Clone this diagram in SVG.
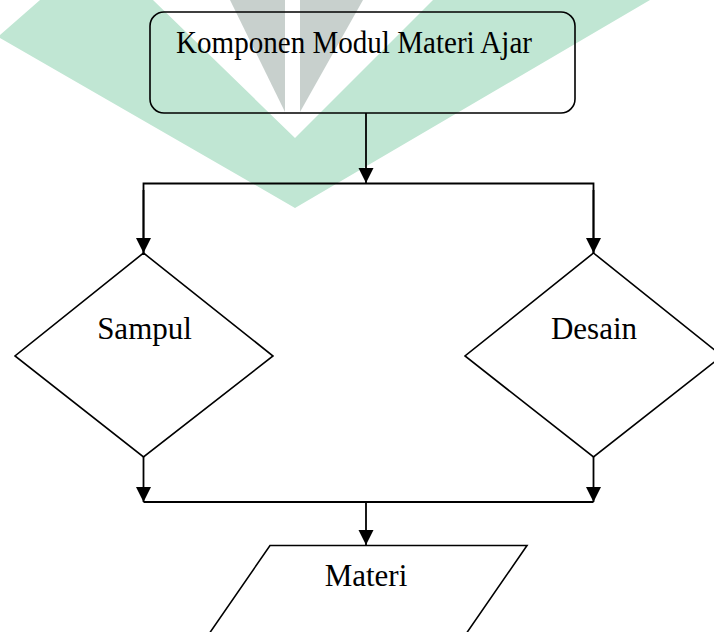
<svg xmlns="http://www.w3.org/2000/svg" width="714" height="632" viewBox="0 0 714 632">
  <style>
    .shape { fill: none; stroke: #000; stroke-width: 1.6; }
    .wire { fill: none; stroke: #000; stroke-width: 1.8; }
    .label { font-family: "Liberation Serif", "Times New Roman", serif; font-size: 31px; fill: #000; }
  </style>
  <defs>
    <marker id="arrow" markerUnits="userSpaceOnUse" markerWidth="16" markerHeight="16" refX="15" refY="7.5" orient="auto">
      <path d="M0,0 L15,7.5 L0,15 z" fill="#000"/>
    </marker>
  </defs>

  <rect width="714" height="632" fill="#fff"/>

  <!-- background watermark emblem -->
  <g id="watermark">
    <polygon points="40,0 153,0 295,138 433,0 650,0 295,208 0,38 0,35" fill="#c0e6d3"/>
    <polygon points="230,0 285,0 285,112" fill="#c8d0cd"/>
    <polygon points="300,0 363,0 300,112" fill="#c8d0cd"/>
  </g>

  <!-- connectors -->
  <g id="connectors">
    <line class="wire" x1="366" y1="113" x2="366" y2="183" marker-end="url(#arrow)"/>
    <polyline class="wire" points="143.5,253 143.5,183.5 593.5,183.5 593.5,253"/>
    <line class="wire" x1="143.5" y1="190" x2="143.5" y2="253" marker-end="url(#arrow)"/>
    <line class="wire" x1="593.5" y1="190" x2="593.5" y2="253" marker-end="url(#arrow)"/>
    <line class="wire" x1="143.5" y1="457" x2="143.5" y2="502" marker-end="url(#arrow)"/>
    <line class="wire" x1="593.5" y1="457" x2="593.5" y2="502" marker-end="url(#arrow)"/>
    <line class="wire" x1="143.5" y1="502" x2="593.5" y2="502"/>
    <line class="wire" x1="366" y1="502" x2="366" y2="545" marker-end="url(#arrow)"/>
  </g>

  <!-- nodes -->
  <g id="node-komponen">
    <rect class="shape" x="150" y="12" width="425" height="101" rx="14" ry="14"/>
    <text class="label" x="176" y="53" textLength="356" lengthAdjust="spacingAndGlyphs">Komponen Modul Materi Ajar</text>
  </g>

  <g id="node-sampul">
    <polygon class="shape" points="143.5,253 273,356 143.5,457 15,356"/>
    <text class="label" x="144.5" y="339" text-anchor="middle">Sampul</text>
  </g>

  <g id="node-desain">
    <polygon class="shape" points="593.5,253 722,356 593.5,457 465,356"/>
    <text class="label" x="594" y="339" text-anchor="middle">Desain</text>
  </g>

  <g id="node-materi">
    <polygon class="shape" points="270,545.5 527,545.5 448,660 191,660"/>
    <text class="label" x="366" y="586" text-anchor="middle">Materi</text>
  </g>
</svg>
